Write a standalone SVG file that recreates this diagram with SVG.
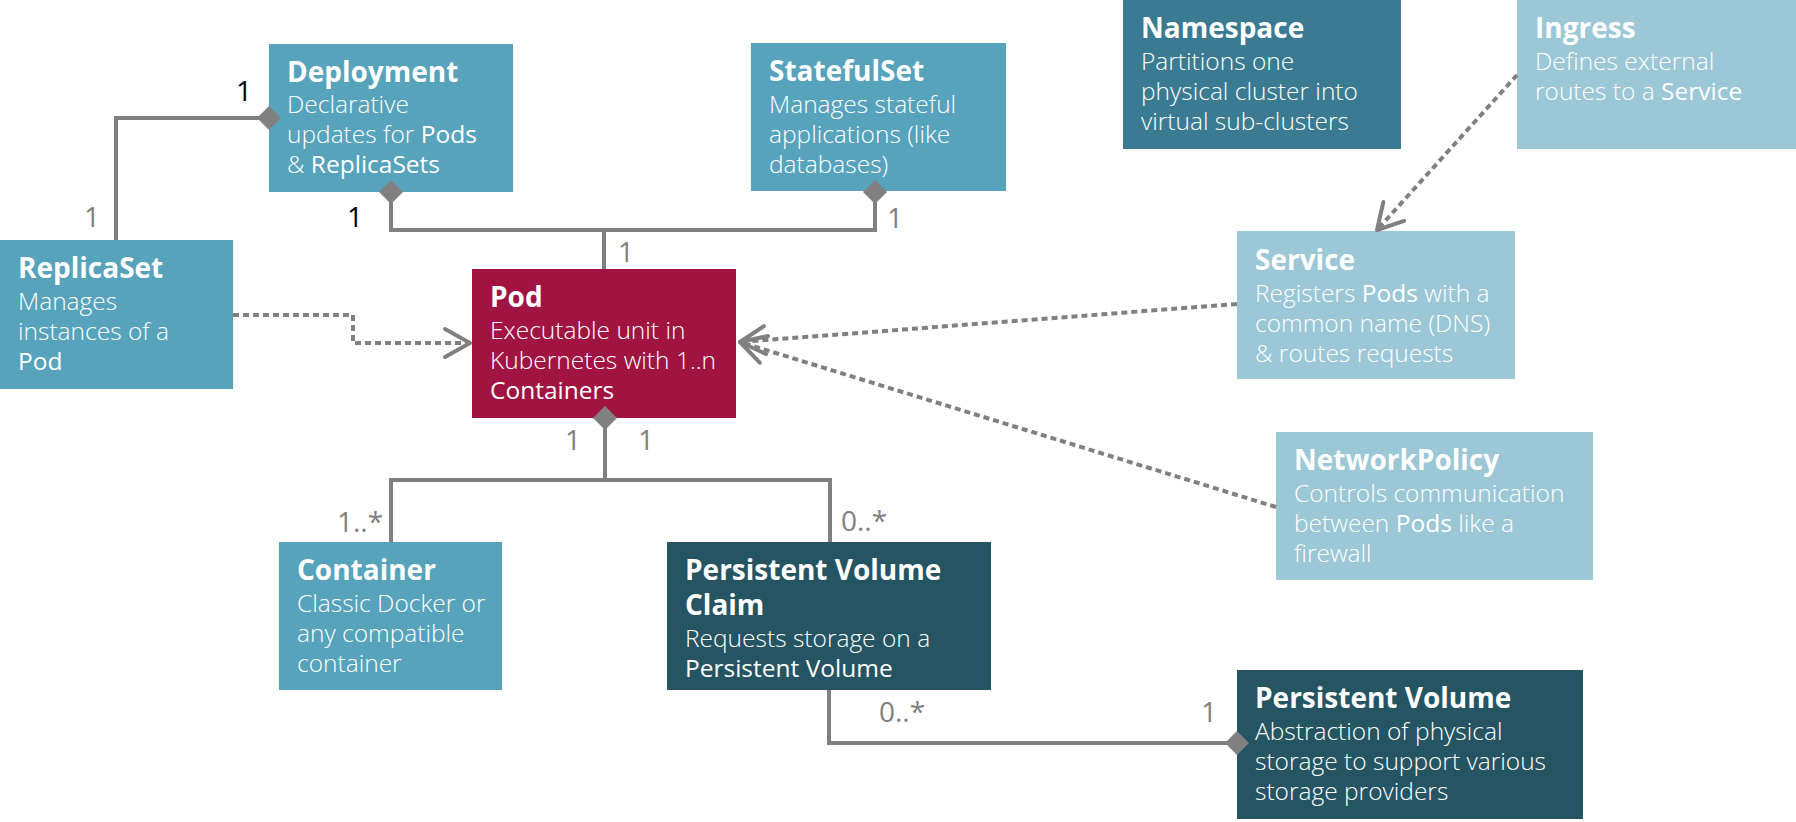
<svg xmlns="http://www.w3.org/2000/svg" width="1796" height="822" viewBox="0 0 1796 822">
<style>
.t{font-family:"Open Sans","Liberation Sans",sans-serif;font-size:28px;font-weight:700;fill:#fff}
.d{font-family:"Open Sans","Liberation Sans",sans-serif;font-size:24.5px;font-weight:300;fill:#fff}
.e{font-weight:400}
.lbl{font-family:"Open Sans","Liberation Sans",sans-serif;font-size:28px;font-weight:400;fill:#808080}
.blk{fill:#000}
.solid{fill:none;stroke:#808080;stroke-width:4}
.dot{fill:none;stroke:#808080;stroke-width:4;stroke-dasharray:6 4}
.dia{fill:#808080}
.c1{fill:#57A3BC}
.c2{fill:#A11441}
.c3{fill:#3B7B91}
.c4{fill:#9BC7D6}
.c5{fill:#255563}
</style>
<defs>
<marker id="arrow" markerUnits="userSpaceOnUse" markerWidth="40" markerHeight="40" viewBox="-30 -20 40 40" refX="0" refY="0" orient="auto" overflow="visible">
<path d="M-25,-14 L0,0 L-25,14" fill="none" stroke="#808080" stroke-width="4" stroke-linecap="round" stroke-linejoin="round"/>
</marker>
</defs>
<rect width="1796" height="822" fill="#fff"/>

<g id="deployment">
<rect class="c1" x="269" y="44" width="244" height="148"/>
<text class="t" x="287" y="82">Deployment</text>
<text class="d" x="287" y="113">Declarative</text>
<text class="d" x="287" y="143">updates for <tspan class="e">Pods</tspan></text>
<text class="d" x="287" y="173">&amp; <tspan class="e">ReplicaSets</tspan></text>
</g>
<g id="statefulset">
<rect class="c1" x="751" y="43" width="255" height="148"/>
<text class="t" x="769" y="81">StatefulSet</text>
<text class="d" x="769" y="113">Manages stateful</text>
<text class="d" x="769" y="143">applications (like</text>
<text class="d" x="769" y="173">databases)</text>
</g>
<g id="replicaset">
<rect class="c1" x="0" y="240" width="233" height="149"/>
<text class="t" x="18" y="278">ReplicaSet</text>
<text class="d" x="18" y="310">Manages</text>
<text class="d" x="18" y="340">instances of a</text>
<text class="d" x="18" y="370"><tspan class="e">Pod</tspan></text>
</g>
<g id="pod">
<rect class="c2" x="472" y="269" width="264" height="149"/>
<text class="t" x="490" y="307">Pod</text>
<text class="d" x="490" y="339">Executable unit in</text>
<text class="d" x="490" y="369">Kubernetes with 1..n</text>
<text class="d" x="490" y="399"><tspan class="e">Containers</tspan></text>
</g>
<g id="namespace">
<rect class="c3" x="1123" y="0" width="278" height="149"/>
<text class="t" x="1141" y="38">Namespace</text>
<text class="d" x="1141" y="70">Partitions one</text>
<text class="d" x="1141" y="100">physical cluster into</text>
<text class="d" x="1141" y="130">virtual sub-clusters</text>
</g>
<g id="ingress">
<rect class="c4" x="1517" y="0" width="279" height="149"/>
<text class="t" x="1535" y="38">Ingress</text>
<text class="d" x="1535" y="70">Defines external</text>
<text class="d" x="1535" y="100">routes to a <tspan class="e">Service</tspan></text>
</g>
<g id="service">
<rect class="c4" x="1237" y="231" width="278" height="148"/>
<text class="t" x="1255" y="270">Service</text>
<text class="d" x="1255" y="302">Registers <tspan class="e">Pods</tspan> with a</text>
<text class="d" x="1255" y="332">common name (DNS)</text>
<text class="d" x="1255" y="362">&amp; routes requests</text>
</g>
<g id="networkpolicy">
<rect class="c4" x="1276" y="432" width="317" height="148"/>
<text class="t" x="1294" y="470">NetworkPolicy</text>
<text class="d" x="1294" y="502">Controls communication</text>
<text class="d" x="1294" y="532">between <tspan class="e">Pods</tspan> like a</text>
<text class="d" x="1294" y="562">firewall</text>
</g>
<g id="container">
<rect class="c1" x="279" y="542" width="223" height="148"/>
<text class="t" x="297" y="580">Container</text>
<text class="d" x="297" y="612">Classic Docker or</text>
<text class="d" x="297" y="642">any compatible</text>
<text class="d" x="297" y="672">container</text>
</g>
<g id="pvc">
<rect class="c5" x="667" y="542" width="324" height="148"/>
<text class="t" x="685" y="580">Persistent Volume</text>
<text class="t" x="685" y="615">Claim</text>
<text class="d" x="685" y="647">Requests storage on a</text>
<text class="d" x="685" y="677"><tspan class="e">Persistent Volume</tspan></text>
</g>
<g id="pv">
<rect class="c5" x="1237" y="670" width="346" height="149"/>
<text class="t" x="1255" y="708">Persistent Volume</text>
<text class="d" x="1255" y="740">Abstraction of physical</text>
<text class="d" x="1255" y="770">storage to support various</text>
<text class="d" x="1255" y="800">storage providers</text>
</g>

<g id="connectors">
<path class="solid" d="M116,240 V118 H260"/>
<path class="solid" d="M391,200 V230 H875 V200"/>
<path class="solid" d="M604,230 V269"/>
<path class="solid" d="M605,425 V480"/>
<path class="solid" d="M391,542 V480 H830 V542"/>
<path class="solid" d="M829,690 V743 H1230"/>
<polygon class="dia" points="257,118 269,106 281,118 269,130"/>
<polygon class="dia" points="391,180 403,192 391,204 379,192"/>
<polygon class="dia" points="875,180 887,192 875,204 863,192"/>
<polygon class="dia" points="605,406 617,418 605,430 593,418"/>
<polygon class="dia" points="1225,743 1237,731 1249,743 1237,755"/>
<path class="dot" d="M233,315 H353 V343 H470" marker-end="url(#arrow)"/>
<path class="dot" d="M1237,304 L740,342" marker-end="url(#arrow)"/>
<path class="dot" d="M1276,507 L740,342" marker-end="url(#arrow)"/>
<path class="dot" d="M1517,75 L1377,230" marker-end="url(#arrow)"/>
<text class="lbl blk" x="244" y="101" text-anchor="middle">1</text>
<text class="lbl" x="92" y="227" text-anchor="middle">1</text>
<text class="lbl blk" x="355" y="227" text-anchor="middle">1</text>
<text class="lbl" x="895" y="228" text-anchor="middle">1</text>
<text class="lbl" x="626" y="262" text-anchor="middle">1</text>
<text class="lbl" x="573" y="450" text-anchor="middle">1</text>
<text class="lbl" x="646" y="450" text-anchor="middle">1</text>
<text class="lbl" x="337" y="532">1..*</text>
<text class="lbl" x="841" y="531">0..*</text>
<text class="lbl" x="879" y="722">0..*</text>
<text class="lbl" x="1209" y="722" text-anchor="middle">1</text>
</g>
</svg>
